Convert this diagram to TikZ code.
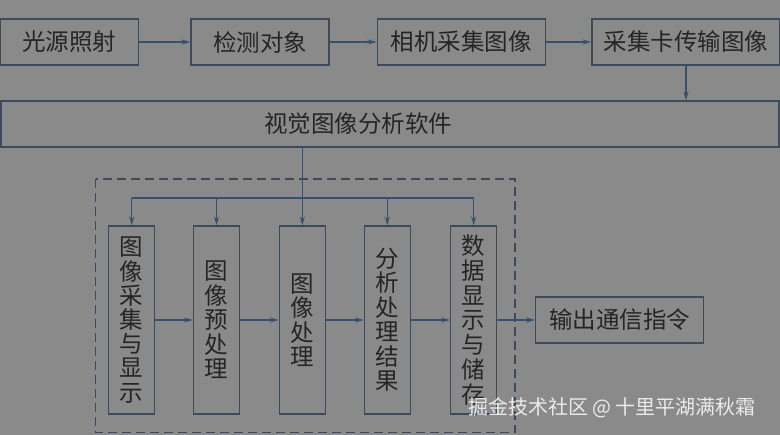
\documentclass[tikz,border=0pt]{standalone}
\usepackage{fontspec}
\newfontfamily\cjk{Noto Sans CJK SC}
\usetikzlibrary{arrows.meta}
\definecolor{bg}{HTML}{8A8A8A}
\definecolor{ln}{HTML}{3C4A5C}
\definecolor{ar}{HTML}{36506E}
\definecolor{tx}{HTML}{252525}
\tikzset{
  box/.style={draw=ln, line width=1.2pt, minimum height=46pt, inner sep=0pt, text=tx, font=\cjk\fontsize{23.5}{24}\selectfont},
  vbox/.style={draw=ln, line width=1.2pt, minimum width=46pt, minimum height=188pt, inner sep=0pt, align=center, text=tx},
  arr/.style={draw=ar, line width=1.2pt, -{Stealth[length=9pt,width=5pt]}},
  bus/.style={draw=ar, line width=1.2pt},
}
\begin{document}
\begin{tikzpicture}[x=1pt,y=-1pt]
\fill[bg] (0,0) rectangle (780,435);
\useasboundingbox (0,0) rectangle (780,435);
% top row
\node[box, minimum width=138pt] (b1) at (69.5,42) {光源照射};
\node[box, minimum width=138pt] (b2) at (260,42) {检测对象};
\node[box, minimum width=168pt] (b3) at (461.3,42) {相机采集图像};
\node[box, minimum width=188pt] (b4) at (686,42) {采集卡传输图像};
\draw[arr] (b1) -- (b2);
\draw[arr] (b2) -- (b3);
\draw[arr] (b3) -- (b4);
% big box
\node[box, minimum width=778pt] (big) at (390,124) {};
\node[text=tx, font=\cjk\fontsize{23.5}{24}\selectfont, inner sep=0pt] (bigt) at (358,124) {视觉图像分析软件};
\draw[arr] (b4.south) -- (b4.south |- big.north);
% dashed frame
\draw[ln, line width=1.2pt, dash pattern=on 9pt off 5pt] (95.7,179) rectangle (515,432.7);
% vertical boxes
\node[vbox, font=\cjk\fontsize{23.5}{24.2}\selectfont] (A) at (131.7,320) {图\\像\\采\\集\\与\\显\\示};
\node[vbox, font=\cjk\fontsize{23.5}{24.5}\selectfont] (B) at (216.5,320) {图\\像\\预\\处\\理};
\node[vbox, font=\cjk\fontsize{23.5}{24.5}\selectfont] (C) at (302.3,320) {图\\像\\处\\理};
\node[vbox, font=\cjk\fontsize{23.5}{24.5}\selectfont] (D) at (387.3,320) {分\\析\\处\\理\\结\\果};
\node[vbox, font=\cjk\fontsize{23.5}{24.8}\selectfont] (E) at (473.7,320) {数\\据\\显\\示\\与\\储\\存};
\node[box, minimum width=168pt] (out) at (619.7,320) {输出通信指令};
% bus
\coordinate (busy) at (0,198);
\draw[arr] (C.north |- big.south) -- (C.north);
\draw[bus] (A.north |- busy) -- (E.north |- busy);
\draw[arr] (A.north |- busy) -- (A.north);
\draw[arr] (B.north |- busy) -- (B.north);
\draw[arr] (D.north |- busy) -- (D.north);
\draw[arr] (E.north |- busy) -- (E.north);
% chain
\draw[arr] (A.east) -- (B.west);
\draw[arr] (B.east) -- (C.west);
\draw[arr] (C.east) -- (D.west);
\draw[arr] (D.east) -- (E.west);
\draw[arr] (E.east) -- (out.west);
% watermark
\node[text=white!92!black, font=\cjk\fontsize{20}{22}\selectfont, inner sep=0pt] (wm) at (612,408) {掘金技术社区 @ 十里平湖满秋霜};
\end{tikzpicture}
\end{document}
